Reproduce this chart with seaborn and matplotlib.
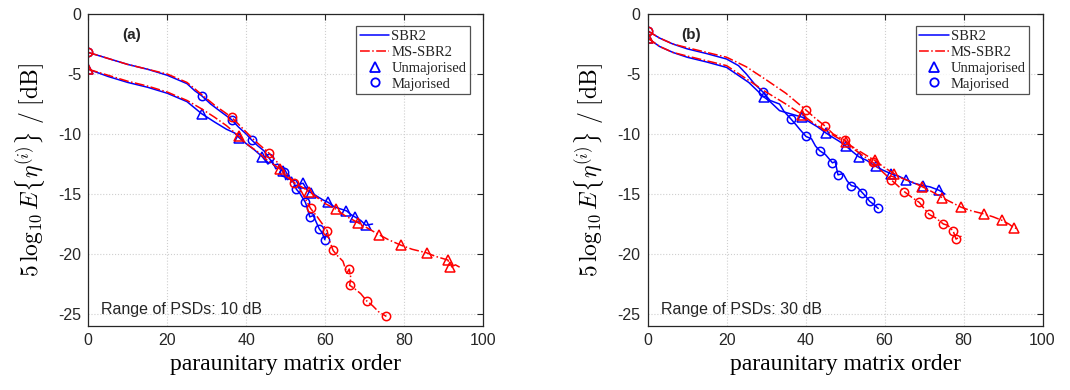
import numpy as np
import pandas as pd
import matplotlib
matplotlib.use("Agg")
import matplotlib.pyplot as plt
from matplotlib.lines import Line2D
import seaborn as sns

# ---------------- data : panel (a), range of PSDs 10 dB ----------------
a_sbr2_un_x = [0, 5, 10, 15, 20, 25, 28.7, 32, 35, 37, 38.2, 40, 42, 44.1, 45.5, 46.5, 47.5, 48.5, 49.4,
               50, 50.8, 51.5, 52.5, 53.2, 54.4, 55.5, 56.5, 58, 59.5, 60.8, 62, 63.5, 65.4, 66.5, 67.5,
               69, 70.3, 72]
a_sbr2_un_y = [-4.6, -5.2, -5.7, -6.1, -6.6, -7.3, -8.3, -9.0, -9.6, -9.9, -10.3, -10.8, -11.3, -11.9,
               -12.5, -12.2, -12.9, -12.7, -13.1, -13.8, -13.4, -14.0, -13.8, -14.2, -14.1, -14.7, -14.9,
               -15.2, -15.5, -15.7, -16.0, -16.2, -16.4, -16.7, -16.9, -17.2, -17.6, -17.5]
a_sbr2_un_mk = [0, 6, 10, 13, 18, 24, 26, 29, 32, 34, 36]

a_sbr2_ma_x = [0, 5, 10, 15, 20, 25, 27, 28.7, 31, 33, 36.3, 38, 40, 41.4, 43, 44.5, 45.8, 47, 48, 49.5,
               50.5, 51.5, 52.7, 53.5, 55.0, 55.5, 56.1, 57, 58.5, 59.2, 59.9, 60.3]
a_sbr2_ma_y = [-3.2, -3.7, -4.2, -4.6, -5.1, -5.8, -6.4, -6.8, -7.5, -8.0, -8.8, -9.4, -10.0, -10.5,
               -11.0, -11.4, -12.0, -12.6, -12.5, -13.2, -13.8, -13.6, -14.6, -14.9, -15.7, -16.2, -16.9,
               -16.8, -17.9, -18.2, -18.8, -18.3]
a_sbr2_ma_mk = [0, 7, 10, 13, 16, 19, 22, 24, 26, 28, 30]

a_ms_un_x = [0, 5, 10, 15, 20, 25, 28.7, 32, 35, 38.2, 40, 43, 45, 48.5, 50, 52, 54, 56, 58, 60, 62.7,
             65, 68.4, 70, 73.7, 76, 79.1, 82, 85.7, 88, 91.1, 91.7, 93, 94.1]
a_ms_un_y = [-4.6, -5.1, -5.6, -6.0, -6.5, -7.2, -7.9, -8.6, -9.3, -10.2, -10.8, -11.5, -12.1, -12.9,
             -13.5, -14.0, -14.4, -14.8, -15.3, -15.8, -16.25, -16.8, -17.4, -17.7, -18.4, -18.8, -19.25,
             -19.6, -19.9, -20.2, -20.5, -21.1, -20.9, -21.1]
a_ms_un_mk = [0, 9, 13, 17, 20, 22, 24, 26, 28, 30, 31]

a_ms_ma_x = [0, 5, 10, 15, 20, 25, 28.7, 32, 36.3, 39, 42, 45.8, 48, 50, 52.2, 54, 56.3, 58, 60.5, 61,
             62, 63, 64.5, 65.5, 66.1, 66.5, 66.2, 67.5, 69, 70.5, 72, 73.5, 75.5]
a_ms_ma_y = [-3.2, -3.7, -4.2, -4.6, -5.0, -5.7, -6.7, -7.6, -8.6, -9.5, -10.5, -11.6, -12.4, -13.2,
             -14.1, -14.8, -16.2, -16.9, -18.05, -18.8, -19.7, -20.1, -20.6, -21.6, -21.25, -22.0, -22.6,
             -22.9, -23.3, -23.9, -24.3, -24.8, -25.2]
a_ms_ma_mk = [0, 8, 11, 14, 16, 18, 20, 24, 26, 29, 32]

# ---------------- data : panel (b), range of PSDs 30 dB ----------------
b_sbr2_un_x = [0, 3, 6.4, 10, 15, 20, 25.6, 29.4, 31, 33.4, 36, 39.2, 41, 43, 45.1, 47, 48.5, 50.2, 52,
               53.5, 55.5, 57.8, 59.5, 61.6, 63.5, 65.4, 67.5, 69.8, 71.5, 73.9, 75.3]
b_sbr2_un_y = [-2.0, -2.7, -3.2, -3.6, -4.0, -4.45, -5.7, -6.9, -7.3, -8.05, -8.3, -8.6, -9.0, -9.4, -9.9,
               -10.3, -10.6, -11.0, -11.5, -11.9, -12.2, -12.7, -13.0, -13.3, -13.5, -13.8, -14.1, -14.3,
               -14.4, -14.7, -15.0]
b_sbr2_un_mk = [0, 7, 11, 14, 17, 19, 21, 23, 25, 27, 29]

b_sbr2_ma_x = [0, 3, 6.4, 10, 15, 20, 23, 25, 27, 29.2, 31, 33.4, 34.5, 36.3, 37.5, 38.5, 40.1, 41.5,
               42.5, 43.6, 45, 46.8, 47.5, 48.2, 49.5, 50.5, 51.6, 53, 54.4, 55.5, 56.2, 57, 58.4]
b_sbr2_ma_y = [-1.4, -2.0, -2.5, -2.9, -3.3, -3.75, -4.3, -5.0, -5.8, -6.5, -7.2, -7.5, -8.1, -8.75,
               -9.2, -9.6, -10.2, -10.4, -11.0, -11.4, -11.7, -12.4, -12.3, -13.4, -13.3, -13.9, -14.3,
               -14.4, -14.9, -15.3, -15.6, -15.8, -16.2]
b_sbr2_ma_mk = [0, 9, 13, 16, 19, 21, 23, 26, 28, 30, 32]

b_ms_un_x = [0, 3, 6.4, 10, 15, 20, 25, 30, 35, 39.2, 42, 45, 47.5, 50.2, 52.5, 55, 57.5, 60, 62.4, 64.5,
             67, 69.6, 72, 74.6, 77, 79.4, 82, 85.1, 87.5, 89.8, 91.5, 92.7, 93.8]
b_ms_un_y = [-2.0, -2.7, -3.2, -3.5, -3.9, -4.3, -5.4, -6.5, -7.5, -8.4, -9.1, -9.7, -10.2, -10.7,
             -11.2, -11.7, -12.2, -12.8, -13.3, -13.7, -14.0, -14.4, -14.8, -15.3, -15.7, -16.1, -16.4,
             -16.65, -16.9, -17.2, -17.5, -17.8, -17.9]
b_ms_un_mk = [0, 9, 13, 16, 18, 21, 23, 25, 27, 29, 31]

b_ms_ma_x = [0, 3, 6.4, 10, 15, 20, 25, 30.1, 35, 40.1, 42.5, 44.8, 47, 49.9, 52, 54.5, 57, 59, 61.6, 63,
             65, 67, 68.8, 70, 71.3, 73, 74.9, 76, 77.4, 78.1, 79.5]
b_ms_ma_y = [-1.4, -2.0, -2.5, -2.8, -3.2, -3.6, -4.4, -5.5, -6.6, -8.0, -8.7, -9.3, -10.0, -10.5, -11.2,
             -11.8, -12.35, -13.0, -13.8, -14.2, -14.8, -15.3, -15.7, -16.2, -16.7, -17.0, -17.5, -17.6,
             -18.1, -18.75, -18.5]
b_ms_ma_mk = [0, 9, 11, 13, 16, 18, 20, 22, 24, 26, 28, 29]

panel_tags = ["(a)", "(b)"]
panel_notes = ["Range of PSDs: 10 dB", "Range of PSDs: 30 dB"]
legend_labels = ["SBR2", "MS-SBR2", "Unmajorised", "Majorised"]
x_ticks = [0, 20, 40, 60, 80, 100]
y_ticks = [0, -5, -10, -15, -20, -25]
x_label = "paraunitary matrix order"
y_label = r"$5\,\log_{10}E\{\eta^{(i)}\}\ /\ [\mathrm{dB}]$"

# ---------------- style ----------------
sns.set_theme(style="white")
plt.rcParams["font.family"] = ["Liberation Sans", "DejaVu Sans"]
plt.rcParams["mathtext.fontset"] = "cm"
plt.rcParams["axes.unicode_minus"] = False

BLUE = (0, 0, 1)
RED = (1, 0, 0)

fig = plt.figure(figsize=(10.7, 3.9), dpi=100)
ax_a = fig.add_axes([0.0825, 0.164, 0.369, 0.800])
ax_b = fig.add_axes([0.6053, 0.164, 0.369, 0.800])

panels = [
    (ax_a, [(a_sbr2_un_x, a_sbr2_un_y, a_sbr2_un_mk, BLUE, "-", "^"),
            (a_sbr2_ma_x, a_sbr2_ma_y, a_sbr2_ma_mk, BLUE, "-", "o"),
            (a_ms_un_x, a_ms_un_y, a_ms_un_mk, RED, "-.", "^"),
            (a_ms_ma_x, a_ms_ma_y, a_ms_ma_mk, RED, "-.", "o")]),
    (ax_b, [(b_sbr2_un_x, b_sbr2_un_y, b_sbr2_un_mk, BLUE, "-", "^"),
            (b_sbr2_ma_x, b_sbr2_ma_y, b_sbr2_ma_mk, BLUE, "-", "o"),
            (b_ms_un_x, b_ms_un_y, b_ms_un_mk, RED, "-.", "^"),
            (b_ms_ma_x, b_ms_ma_y, b_ms_ma_mk, RED, "-.", "o")]),
]

for i, (ax, curves) in enumerate(panels):
    for xs, ys, mk, col, ls, m in curves:
        df = pd.DataFrame({"x": xs, "y": ys})
        sns.lineplot(data=df, x="x", y="y", ax=ax, sort=False, estimator=None,
                     color=col, linestyle=ls, linewidth=1.1,
                     marker=m, markevery=mk, markersize=6.5 if m == "^" else 6,
                     markerfacecolor="none", markeredgecolor=col, markeredgewidth=1.1)
    ax.set_xlim(0, 100)
    ax.set_ylim(-26, 0)
    ax.set_xticks(x_ticks)
    ax.set_yticks(y_ticks)
    ax.set_xticklabels([str(v) for v in x_ticks])
    ax.set_yticklabels([str(v) for v in y_ticks])
    ax.grid(True, linestyle=":", color="#cfcfcf", linewidth=0.8)
    ax.tick_params(direction="in", length=4, width=0.8, top=True, right=True,
                   labelsize=11.5, colors="#262626", pad=5)
    for sp in ax.spines.values():
        sp.set_color("#262626")
        sp.set_linewidth(0.9)
    ax.set_xlabel(x_label, family="Liberation Serif", fontsize=17, color="black", labelpad=4)
    ax.set_ylabel(y_label, fontsize=17, color="black", labelpad=8)
    ax.text(0.085, 0.955, panel_tags[i], transform=ax.transAxes, fontsize=11,
            fontweight="bold", ha="left", va="top")
    ax.text(0.033, 0.03, panel_notes[i], transform=ax.transAxes, fontsize=11.5,
            ha="left", va="bottom")
    handles = [Line2D([], [], color=BLUE, linestyle="-", linewidth=1.1),
               Line2D([], [], color=RED, linestyle="-.", linewidth=1.1),
               Line2D([], [], color=BLUE, linestyle="none", marker="^", markersize=6.5,
                      markerfacecolor="none", markeredgewidth=1.3),
               Line2D([], [], color=BLUE, linestyle="none", marker="o", markersize=6,
                      markerfacecolor="none", markeredgewidth=1.3)]
    leg = ax.legend(handles, legend_labels, loc="upper right", bbox_to_anchor=(0.978, 0.975),
                    prop={"family": "Liberation Serif", "size": 10.5}, frameon=True,
                    fancybox=False, edgecolor="#262626", handlelength=2.0, handletextpad=0.15,
                    labelspacing=0.18, borderpad=0.25, borderaxespad=0.3)
    leg.get_frame().set_linewidth(0.9)

fig.savefig("out.png", dpi=100)
